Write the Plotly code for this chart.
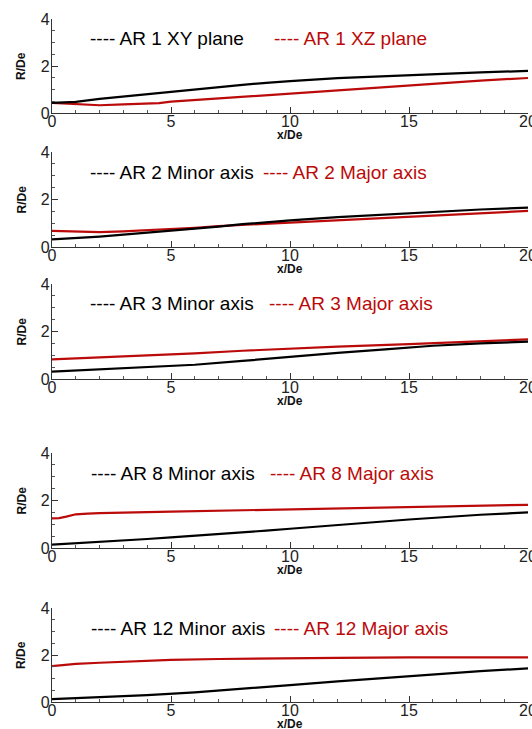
import plotly.graph_objects as go

# ---------------- data ----------------
x_ar1_black = [0, 1, 2, 3, 4, 5, 6, 7, 8, 9, 10, 12, 15, 18, 20]
r_ar1_black = [0.43, 0.47, 0.60, 0.70, 0.82, 0.93, 1.02, 1.11, 1.20, 1.28, 1.36, 1.48, 1.62, 1.73, 1.79]
x_ar1_red = [0, 0.5, 1, 2, 3, 4, 4.5, 5, 6, 7, 8, 9, 10, 12, 15, 18, 20]
r_ar1_red = [0.43, 0.40, 0.38, 0.33, 0.37, 0.40, 0.42, 0.48, 0.55, 0.62, 0.70, 0.77, 0.84, 0.98, 1.18, 1.38, 1.49]

x_ar2_black = [0, 1, 2, 3, 4, 5, 6, 7, 8, 9, 10, 12, 15, 18, 20]
r_ar2_black = [0.32, 0.37, 0.44, 0.52, 0.60, 0.68, 0.77, 0.86, 0.96, 1.05, 1.12, 1.26, 1.43, 1.58, 1.66]
x_ar2_red = [0, 1, 2, 3, 4, 5, 6, 7, 8, 9, 10, 12, 15, 18, 20]
r_ar2_red = [0.68, 0.64, 0.63, 0.66, 0.70, 0.75, 0.81, 0.88, 0.93, 0.98, 1.03, 1.14, 1.30, 1.44, 1.52]

x_ar3_black = [0, 2, 4, 6, 8, 10, 12, 14, 15, 16, 18, 20]
r_ar3_black = [0.31, 0.40, 0.51, 0.60, 0.76, 0.94, 1.10, 1.25, 1.33, 1.40, 1.50, 1.57]
x_ar3_red = [0, 2, 4, 6, 8, 10, 12, 15, 18, 20]
r_ar3_red = [0.83, 0.91, 1.00, 1.08, 1.19, 1.28, 1.36, 1.47, 1.58, 1.67]

x_ar8_black = [0, 2, 4, 5, 7, 9, 10, 12, 15, 18, 20]
r_ar8_black = [0.14, 0.25, 0.38, 0.45, 0.58, 0.73, 0.81, 0.97, 1.20, 1.40, 1.50]
x_ar8_red = [0, 0.3, 0.6, 1, 1.5, 2, 5, 9, 12, 15, 18, 20]
r_ar8_red = [1.25, 1.26, 1.32, 1.42, 1.45, 1.47, 1.53, 1.60, 1.65, 1.71, 1.78, 1.82]

x_ar12_black = [0, 2, 4, 6, 8, 10, 12, 14, 16, 18, 20]
r_ar12_black = [0.12, 0.20, 0.29, 0.41, 0.55, 0.72, 0.88, 1.03, 1.18, 1.31, 1.43]
x_ar12_red = [0, 0.5, 1, 2, 3, 5, 7, 9, 12, 15, 20]
r_ar12_red = [1.53, 1.58, 1.62, 1.67, 1.71, 1.79, 1.83, 1.86, 1.88, 1.90, 1.90]

black_labels = ["AR 1 XY plane", "AR 2 Minor axis", "AR 3 Minor axis", "AR 8 Minor axis", "AR 12 Minor axis"]
red_labels = ["AR 1 XZ plane", "AR 2 Major axis", "AR 3 Major axis", "AR 8 Major axis", "AR 12 Major axis"]
x_tick_vals = [0, 5, 10, 15, 20]
y_tick_vals = [0, 2, 4]
x_title = "x/De"
y_title = "R/De"

series = [
    (x_ar1_black, r_ar1_black, x_ar1_red, r_ar1_red),
    (x_ar2_black, r_ar2_black, x_ar2_red, r_ar2_red),
    (x_ar3_black, r_ar3_black, x_ar3_red, r_ar3_red),
    (x_ar8_black, r_ar8_black, x_ar8_red, r_ar8_red),
    (x_ar12_black, r_ar12_black, x_ar12_red, r_ar12_red),
]

# ---------------- layout ----------------
W, H = 532, 729
FONT = "Liberation Sans, Arial, sans-serif"
BLACK = "#000000"
RED = "#BB0A0A"

# pixel extents of each panel (top, bottom)
panel_px = [(19, 113), (152, 247), (284, 379), (453, 548), (608, 702)]
x_px = (52, 528)
legend_y_px = [38, 172, 303, 473, 628]
legend_black_x_px = [88, 88, 88, 89, 89]
legend_red_x_px = [272, 261, 267, 268, 272]

fig = go.Figure()
annotations = []
for i, (xb, rb, xr, rr) in enumerate(series):
    n = i + 1
    xa = "x" if n == 1 else f"x{n}"
    ya = "y" if n == 1 else f"y{n}"
    fig.add_trace(go.Scatter(x=xr, y=rr, mode="lines", line=dict(color=RED, width=2.2),
                             xaxis=xa, yaxis=ya, showlegend=False))
    fig.add_trace(go.Scatter(x=xb, y=rb, mode="lines", line=dict(color=BLACK, width=2.2),
                             xaxis=xa, yaxis=ya, showlegend=False))
    top, bot = panel_px[i]
    xkey = "xaxis" if n == 1 else f"xaxis{n}"
    ykey = "yaxis" if n == 1 else f"yaxis{n}"
    fig.layout[xkey] = dict(
        domain=[x_px[0] / W, x_px[1] / W], anchor=ya, range=[0, 20],
        showline=True, linecolor="#333", linewidth=1.3, mirror=False,
        showgrid=False, zeroline=False, ticks="inside", ticklen=6, tickwidth=1, tickcolor="#333",
        tickvals=x_tick_vals, tickfont=dict(family=FONT, size=16, color="#222"),
        ticklabelstandoff=-6, ticklabeloverflow="allow",
        minor=dict(dtick=1, ticks="inside", ticklen=3, tickcolor="#555", showgrid=False),
        automargin=False, fixedrange=True,
    )
    fig.layout[ykey] = dict(
        domain=[1 - bot / H, 1 - top / H], anchor=xa, range=[0, 4],
        showline=True, linecolor="#333", linewidth=1.3, mirror=False,
        showgrid=False, zeroline=False, ticks="inside", ticklen=6, tickwidth=1, tickcolor="#333",
        tickvals=y_tick_vals, tickfont=dict(family=FONT, size=16, color="#222"),
        ticklabelstandoff=-2, ticklabeloverflow="allow",
        minor=dict(dtick=0.5, ticks="inside", ticklen=3, tickcolor="#555", showgrid=False),
        automargin=False, fixedrange=True,
    )
    # axis titles
    annotations.append(dict(xref="paper", yref="paper", x=((x_px[0] + x_px[1]) / 2) / W,
                            y=1 - (bot + 22) / H, xanchor="center", yanchor="middle",
                            showarrow=False, text=f"<b>{x_title}</b>",
                            font=dict(family=FONT, size=12, color="#111")))
    annotations.append(dict(xref="paper", yref="paper", x=21 / W,
                            y=1 - ((top + bot) / 2) / H, xanchor="center", yanchor="middle",
                            showarrow=False, textangle=-90, text=f"<b>{y_title}</b>",
                            font=dict(family=FONT, size=12, color="#111")))
    ly = 1 - legend_y_px[i] / H
    annotations.append(dict(xref="paper", yref="paper", x=legend_black_x_px[i] / W, y=ly,
                            xanchor="left", yanchor="middle", showarrow=False,
                            text="---- " + black_labels[i],
                            font=dict(family=FONT, size=19, color=BLACK)))
    annotations.append(dict(xref="paper", yref="paper", x=legend_red_x_px[i] / W, y=ly,
                            xanchor="left", yanchor="middle", showarrow=False,
                            text="---- " + red_labels[i],
                            font=dict(family=FONT, size=19, color=RED)))

fig.update_layout(
    width=W, height=H, margin=dict(l=0, r=0, t=0, b=0),
    paper_bgcolor="white", plot_bgcolor="white",
    annotations=annotations, showlegend=False,
)

fig.write_html("out.html", config={"displayModeBar": False})
